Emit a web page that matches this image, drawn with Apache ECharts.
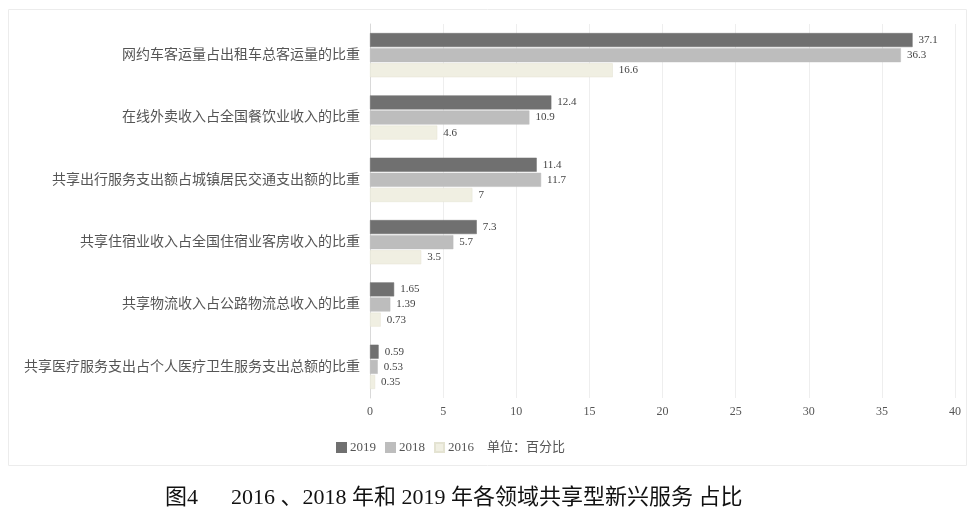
<!DOCTYPE html>
<html><head><meta charset="utf-8">
<script src="https://cdn.jsdelivr.net/npm/echarts@6/dist/echarts.min.js"></script>
<style>html,body{margin:0;padding:0;background:#fff}#c{width:969px;height:521px}</style>
</head><body><div id="c"></div>
<script>
const categories = [
  '网约车客运量占出租车总客运量的比重',
  '在线外卖收入占全国餐饮业收入的比重',
  '共享出行服务支出额占城镇居民交通支出额的比重',
  '共享住宿业收入占全国住宿业客房收入的比重',
  '共享物流收入占公路物流总收入的比重',
  '共享医疗服务支出占个人医疗卫生服务支出总额的比重'
];
const seriesNames = ['2019', '2018', '2016'];
const v2019 = [37.1, 12.4, 11.4, 7.3, 1.65, 0.59];
const v2018 = [36.3, 10.9, 11.7, 5.7, 1.39, 0.53];
const v2016 = [16.6, 4.6, 7, 3.5, 0.73, 0.35];
const xTicks = [0, 5, 10, 15, 20, 25, 30, 35, 40];

const FONT = '"Liberation Serif", "Noto Sans CJK SC", serif';
const colors = ['#707070', '#bdbdbd', '#f0efe2'];
const values = [v2019, v2018, v2016];

const chart = echarts.init(document.getElementById('c'));
chart.setOption({
  animation: false,
  textStyle: { fontFamily: FONT },
  title: {
    text: '图4　  2016 、2018 年和 2019 年各领域共享型新兴服务 占比',
    left: 160, top: 482,
    textStyle: { fontFamily: FONT, fontSize: 22, fontWeight: 'normal', color: '#111' }
  },
  legend: {
    data: seriesNames,
    left: 331, top: 436,
    itemWidth: 9, itemHeight: 9, itemGap: 9,
    icon: 'rect',
    textStyle: { fontFamily: FONT, fontSize: 13, color: '#555', padding: [0, 0, 0, -1] }
  },
  graphic: [
    { type: 'rect', shape: { x: 8.5, y: 9.5, width: 958, height: 456 },
      style: { fill: 'none', stroke: '#ececec', lineWidth: 1 }, silent: true },
    { type: 'text', left: 487, top: 441,
      style: { text: '单位：百分比', font: '13px ' + FONT, fill: '#555' } }
  ],
  grid: { left: 370, right: 14, top: 24, bottom: 123, containLabel: false },
  xAxis: {
    type: 'value', min: 0, max: 40, interval: 5,
    axisLine: { show: false }, axisTick: { show: false },
    splitLine: { show: true, lineStyle: { color: '#eeeeee' } },
    axisLabel: { color: '#555', fontSize: 12, fontFamily: FONT, margin: 8,
      formatter: v => xTicks.includes(v) ? String(v) : '' }
  },
  yAxis: {
    type: 'category', data: categories, inverse: true,
    axisLine: { show: true, lineStyle: { color: '#d9d9d9' } },
    axisTick: { show: false },
    axisLabel: { color: '#555', fontSize: 14, fontFamily: FONT, margin: 10 }
  },
  series: seriesNames.map((n, i) => ({
    name: n, type: 'bar', data: values[i],
    barWidth: 14, barGap: '8%',
    itemStyle: { color: colors[i], borderColor: i === 2 ? '#e4e3d2' : colors[i], borderWidth: 0.5 },
    label: { show: true, position: 'right', distance: 6, color: '#444', fontSize: 11, fontFamily: FONT }
  }))
});
</script></body></html>
